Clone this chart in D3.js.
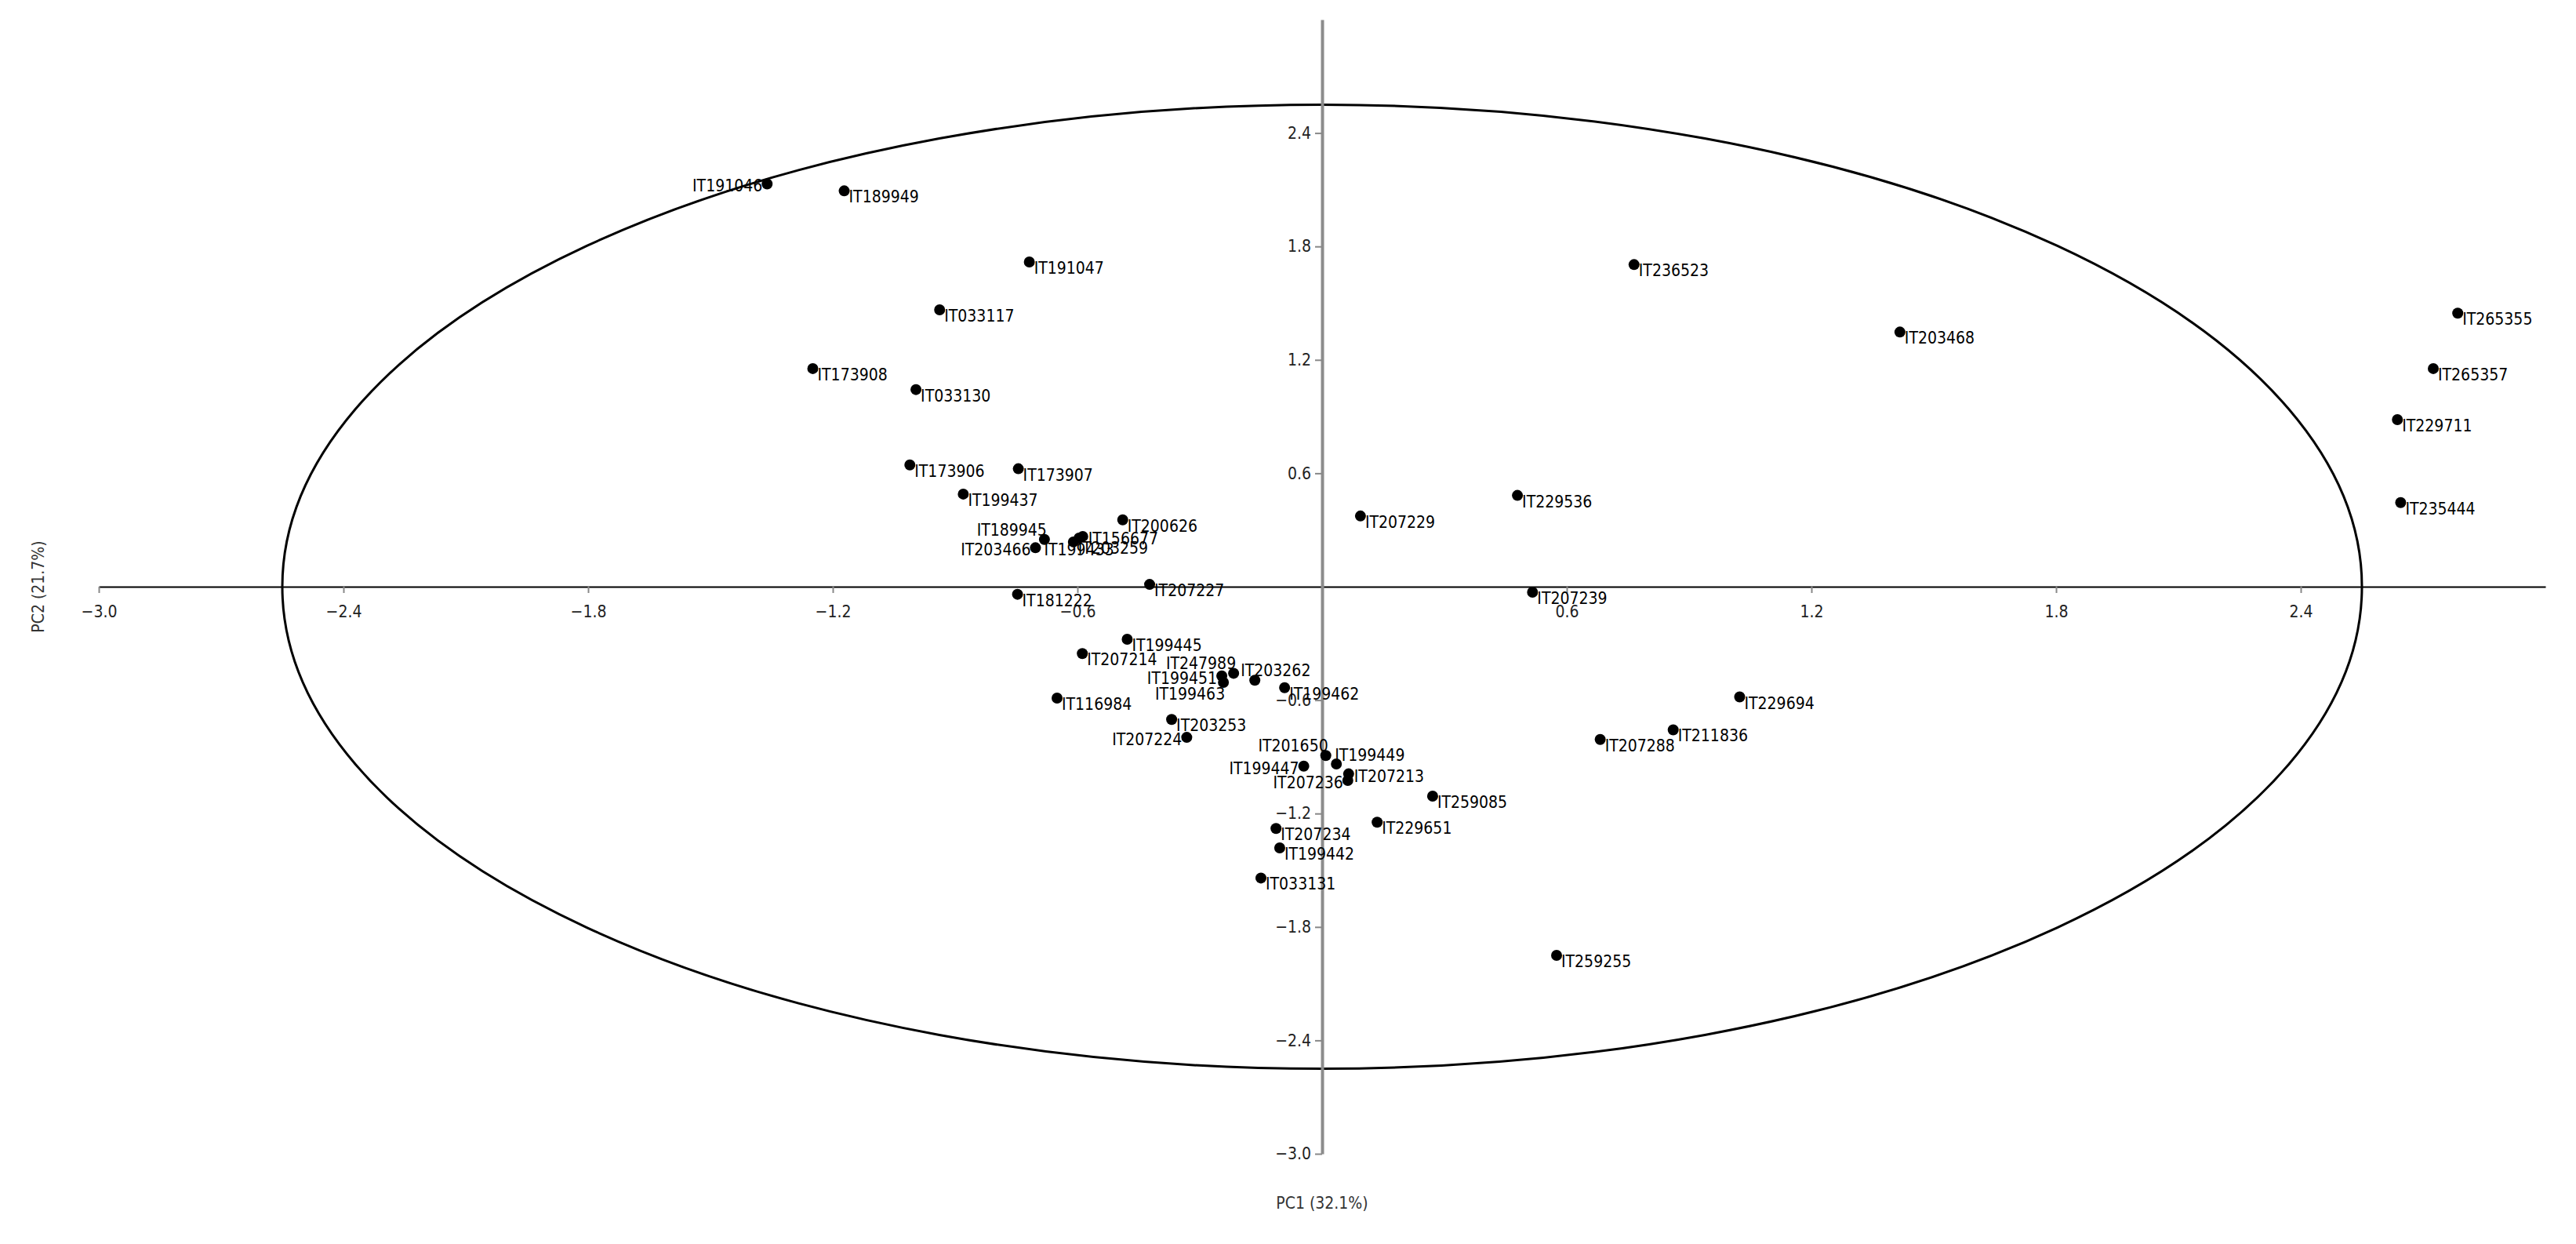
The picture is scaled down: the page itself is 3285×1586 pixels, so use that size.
<!DOCTYPE html>
<html>
<head>
<meta charset="utf-8">
<script src="https://cdn.jsdelivr.net/npm/d3@7"></script>
<style>
  body { margin: 0; background: #fff; }
  text { font-family: "DejaVu Sans Condensed", "Liberation Sans", sans-serif; }
</style>
</head>
<body>
<svg id="pca"></svg>
<script>
// sample names and scores
var names = ["IT191046","IT189949","IT191047","IT033117","IT173908","IT033130","IT173906","IT173907","IT199437","IT200626",
  "IT189945","IT203466","IT199433","IT156677","IT203259","IT207227","IT181222","IT199445","IT207214","IT247989",
  "IT199451","IT199463","IT203262","IT199462","IT116984","IT203253","IT207224","IT201650","IT199449","IT199447",
  "IT207236","IT207213","IT259085","IT229651","IT207234","IT199442","IT033131","IT236523","IT203468","IT265355",
  "IT265357","IT229711","IT235444","IT229536","IT207229","IT207239","IT229694","IT211836","IT207288","IT259255"]
var pc1 = [-1.361,-1.172,-0.718,-0.938,-1.249,-0.996,-1.011,-0.745,-0.880,-0.489,
  -0.681,-0.703,-0.596,-0.587,-0.610,-0.423,-0.747,-0.478,-0.588,-0.217,
  -0.246,-0.242,-0.165,-0.092,-0.650,-0.369,-0.332,0.009,0.035,-0.045,
  0.063,0.065,0.271,0.135,-0.113,-0.104,-0.150,0.765,1.417,2.785,
  2.725,2.637,2.645,0.479,0.094,0.516,1.024,0.861,0.682,0.575]
var pc2 = [2.131,2.094,1.718,1.465,1.154,1.043,0.644,0.624,0.490,0.354,
  0.250,0.206,0.257,0.266,0.237,0.012,-0.040,-0.278,-0.354,-0.458,
  -0.472,-0.506,-0.495,-0.534,-0.589,-0.702,-0.797,-0.893,-0.938,-0.949,
  -1.025,-0.990,-1.108,-1.246,-1.279,-1.382,-1.541,1.704,1.347,1.447,
  1.154,0.884,0.445,0.483,0.374,-0.029,-0.583,-0.757,-0.808,-1.950]
// where each label sits relative to its dot
var labelSide = ["l","br","br","br","br","br","br","br","br","br",
  "al","l","b","r","br","br","br","br","br","al",
  "l","bl","a","br","br","br","l","al","ar","l",
  "l","r","br","br","br","br","br","br","br","br",
  "br","br","br","br","br","br","br","br","br","br"]

var xTicks = [-3.0,-2.4,-1.8,-1.2,-0.6,0.6,1.2,1.8,2.4]
var yTicks = [2.4,1.8,1.2,0.6,-0.6,-1.2,-1.8,-2.4,-3.0]
var ellipseR = 2.55
var xTitle = "PC1 (32.1%)"
var yTitle = "PC2 (21.7%)"

var width = 3285
var height = 1586
var svg = d3.select("#pca").attr("width", width).attr("height", height)

var x = d3.scaleLinear().domain([-3, 3]).range([126, 3246])
var y = d3.scaleLinear().domain([-3, 3]).range([1471, 25])

var pts = names.map(function(n, i) { return {name: n, x: pc1[i], y: pc2[i], side: labelSide[i]} })

//confidence ellipse
svg.append("ellipse")
  .attr("cx", x(0)).attr("cy", y(0))
  .attr("rx", x(ellipseR) - x(0)).attr("ry", y(0) - y(ellipseR))
  .attr("fill", "none").attr("stroke", "#000").attr("stroke-width", 3)

//axes through the origin
var gx = svg.append("g").attr("transform", "translate(0," + y(0) + ")")
  .call(d3.axisBottom(x).tickValues(xTicks).tickFormat(d3.format(".1f")).tickSize(8).tickSizeOuter(0).tickPadding(16))
gx.select(".domain").attr("stroke", "#000").attr("stroke-width", 2)
gx.selectAll(".tick line").attr("stroke", "#888").attr("stroke-width", 2)
gx.selectAll(".tick text").attr("font-size", 21).attr("fill", "#222")
  .style("font-family", "'DejaVu Sans Condensed','Liberation Sans',sans-serif")

var gy = svg.append("g").attr("transform", "translate(" + x(0) + ",0)")
  .call(d3.axisLeft(y).tickValues(yTicks).tickFormat(d3.format(".1f")).tickSize(9).tickSizeOuter(0).tickPadding(5))
gy.select(".domain").attr("stroke", "#8c8c8c").attr("stroke-width", 4)
gy.selectAll(".tick line").attr("stroke", "#888").attr("stroke-width", 2)
gy.selectAll(".tick text").attr("font-size", 21).attr("fill", "#222")
  .style("font-family", "'DejaVu Sans Condensed','Liberation Sans',sans-serif")

svg.append("text").attr("x", x(0)).attr("y", 1541).attr("text-anchor", "middle")
  .attr("font-size", 21).attr("fill", "#333").text(xTitle)
svg.append("text").attr("transform", "translate(56," + y(0) + ") rotate(-90)").attr("text-anchor", "middle")
  .attr("font-size", 21).attr("fill", "#333").text(yTitle)

//points
svg.append("g").selectAll("circle")
  .data(pts)
  .enter()
  .append("circle")
  .attr("cx", d => x(d.x))
  .attr("cy", d => y(d.y))
  .attr("r", 7)
  .attr("fill", "#000")

// label offsets per side code: [anchor, dx, dy to baseline]
var place = {
  br: ["start", 6, 15],
  r:  ["start", 7, 10],
  l:  ["end", -6, 10],
  al: ["end", 3, -5],
  ar: ["start", -2, -4],
  a:  ["start", -18, -5],
  b:  ["middle", 0, 22],
  bl: ["end", 2, 22]
}

svg.append("g").selectAll("text")
  .data(pts)
  .enter()
  .append("text")
  .attr("x", d => x(d.x) + place[d.side][1])
  .attr("y", d => y(d.y) + place[d.side][2])
  .attr("text-anchor", d => place[d.side][0])
  .attr("font-size", 21)
  .attr("fill", "#000")
  .text(d => d.name)
</script>
</body>
</html>
